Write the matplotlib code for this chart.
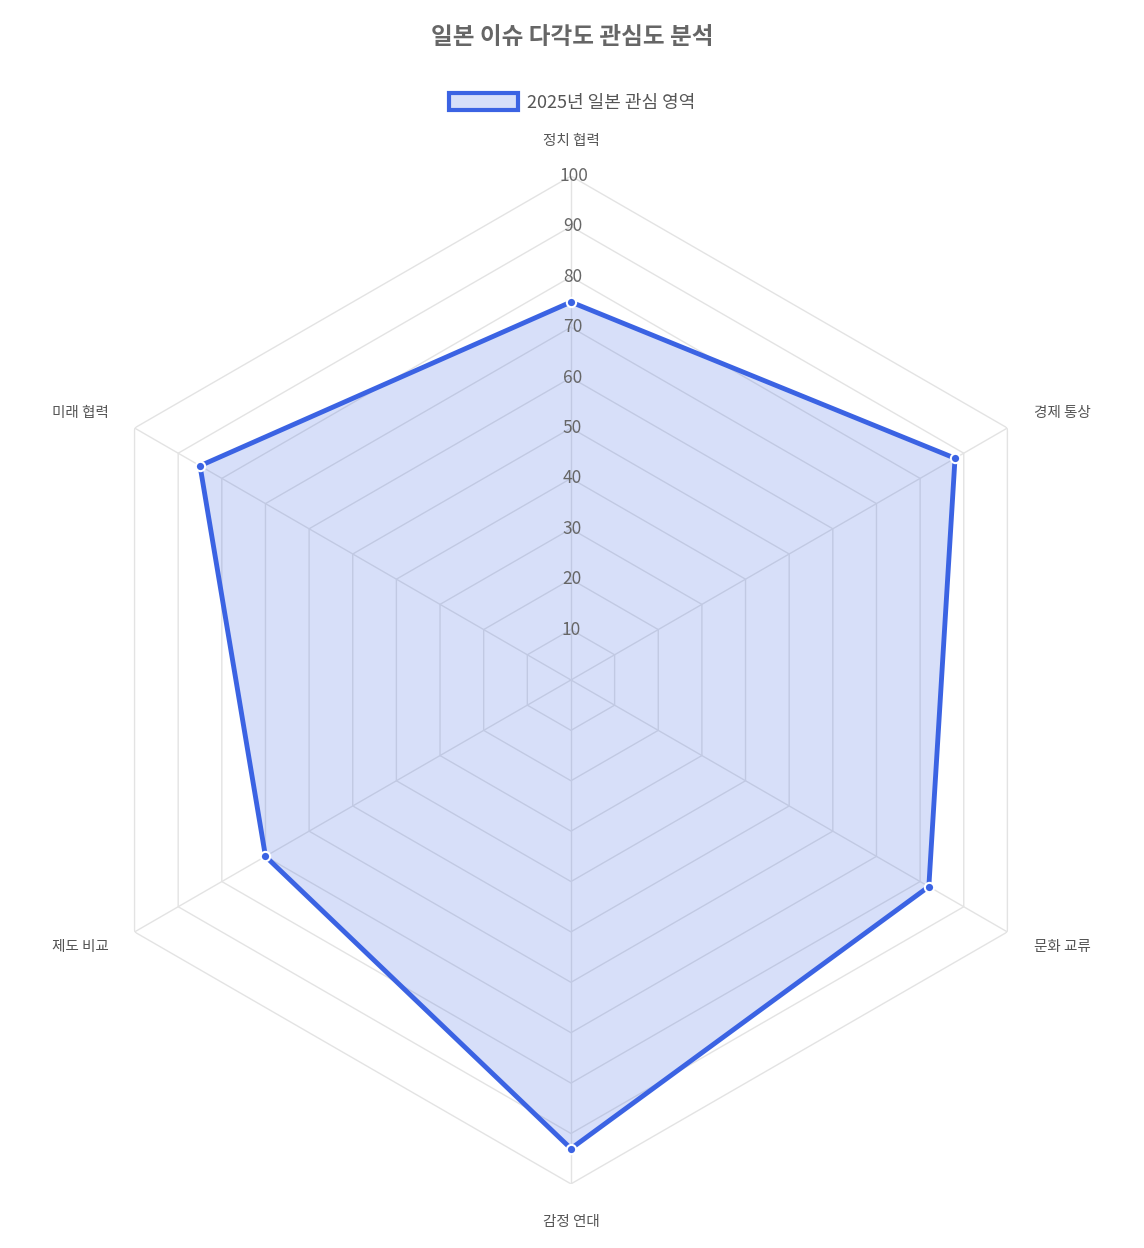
import numpy as np
import matplotlib.pyplot as plt
from matplotlib.patches import Patch

plt.rcParams['font.family'] = ['Noto Sans CJK KR', 'DejaVu Sans']

categories = ['정치 협력', '경제 통상', '문화 교류', '감정 연대', '제도 비교', '미래 협력']
values = [75, 88, 82, 93, 70, 85]
ticks = [10, 20, 30, 40, 50, 60, 70, 80, 90, 100]
series_name = '2025년 일본 관심 영역'
line_color = '#3b63e3'

fig = plt.figure(figsize=(11.44, 12.48), dpi=100)
ax = fig.add_axes([0.0586, 0.0513, 0.881, 0.8077], projection='polar')
ax.set_theta_zero_location('N')
ax.set_theta_direction(-1)
ax.set_ylim(0, 100)
ax.grid(False)
ax.spines['polar'].set_visible(False)
ax.set_xticks([])
ax.set_yticks([])

n = len(categories)
angles = np.arange(n) * 2 * np.pi / n
closed = np.append(angles, angles[0])

# hexagonal grid
for t in ticks:
    ax.plot(closed, [t] * (n + 1), color='#e3e3e3', lw=1, zorder=1)
for a in angles:
    ax.plot([a, a], [0, 100], color='#e3e3e3', lw=1, zorder=1)

vals = values + values[:1]
ax.fill(closed, vals, color=line_color, alpha=0.2, zorder=2, lw=0)
ax.plot(closed, vals, color=line_color, lw=3.5, zorder=3)
ax.scatter(angles, values, s=45, color=line_color, edgecolor='white', linewidth=1.5, zorder=4)

for t in ticks:
    ax.text(0.005, t, str(t), ha='center', va='center', fontsize=12.5, color='#666666', zorder=5)

for a, c in zip(angles, categories):
    deg = np.degrees(a)
    if deg == 0:
        ax.text(a, 107, c, ha='center', va='center', fontsize=10.5, color='#555555')
    elif deg == 180:
        ax.text(a, 107.5, c, ha='center', va='center', fontsize=10.5, color='#555555')
    else:
        ha = 'left' if deg < 180 else 'right'
        ax.text(a, 106, c, ha=ha, va='center', fontsize=10.5, color='#555555')

fig.text(0.5, 0.970, '일본 이슈 다각도 관심도 분석', ha='center', va='center',
         fontsize=17, fontweight='bold', color='#666666')
handle = Patch(facecolor=(0.23, 0.39, 0.89, 0.2), edgecolor=line_color, linewidth=3)
fig.legend([handle], [series_name], loc='center', bbox_to_anchor=(0.5, 0.918),
           frameon=False, fontsize=13, handlelength=3.8, handleheight=1.1,
           labelcolor='#555555', handletextpad=0.5)

fig.savefig('out.png', dpi=100, facecolor='white')
